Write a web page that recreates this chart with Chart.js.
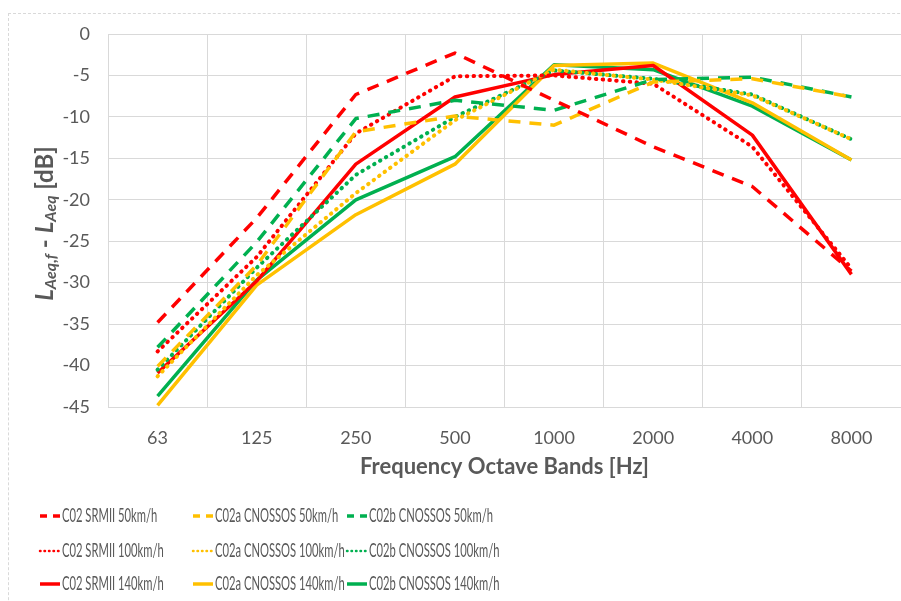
<!DOCTYPE html>
<html>
<head>
<meta charset="utf-8">
<script src="https://cdn.jsdelivr.net/npm/chart.js@4.4.1/dist/chart.umd.min.js"></script>
<style>
  html, body { margin: 0; padding: 0; background: #fff; overflow: hidden; }
  #wrap { position: relative; width: 901px; height: 601px; overflow: hidden; }
  #frame { position: absolute; left: 8px; top: 13px; width: 1000px; height: 700px; border: 1px dashed #d9d9d9; }
  #chart { position: absolute; left: 0; top: 0; }
</style>
</head>
<body>
<div id="wrap">
  <div id="frame"></div>
  <canvas id="chart" width="901" height="601"></canvas>
</div>
<script>
// octave bands and level differences (dB)
const bands = ['63', '125', '250', '500', '1000', '2000', '4000', '8000'];

const srmii50    = [-34.8, -22.2, -7.3, -2.3, -8.0, -13.6, -18.4, -28.6];
const cnossosA50 = [-40.1, -27.9, -11.8, -9.9, -11.0, -5.8, -5.4, -7.6];
const cnossosB50 = [-37.8, -25.1, -10.2, -8.0, -9.2, -5.5, -5.2, -7.6];

const srmii100    = [-38.3, -26.9, -12.0, -5.1, -5.0, -6.0, -13.6, -28.3];
const cnossosA100 = [-41.3, -29.1, -19.2, -10.4, -4.3, -5.5, -7.4, -12.7];
const cnossosB100 = [-40.5, -28.2, -17.0, -10.0, -4.4, -5.4, -7.3, -12.7];

const srmii140    = [-40.9, -29.8, -15.7, -7.6, -4.9, -3.8, -12.2, -29.0];
const cnossosA140 = [-44.8, -30.3, -21.8, -15.7, -3.8, -3.5, -8.3, -15.2];
const cnossosB140 = [-43.7, -29.7, -20.0, -14.8, -3.7, -4.3, -8.7, -15.2];

const yTicks = { min: -45, max: 0, step: 5 };

const RED = '#ff0000', YELLOW = '#ffc000', GREEN = '#00b050';
const TXT = '#595959';
const FONT = 'Lato';

const DASH = [12, 9];
const DOT = [0.5, 6.3];

function series(label, data, color, style) {
  return {
    label, data,
    borderColor: color,
    backgroundColor: color,
    borderWidth: style === 'dot' ? 4 : 3.5,
    borderDash: style === 'dash' ? DASH : style === 'dot' ? DOT : [],
    borderCapStyle: style === 'dot' ? 'round' : 'butt',
    borderJoinStyle: 'round',
    pointRadius: 0,
    tension: 0,
    fill: false,
    _style: style
  };
}

const datasets = [
  series('C02 SRMII 50km/h', srmii50, RED, 'dash'),
  series('C02a CNOSSOS 50km/h', cnossosA50, YELLOW, 'dash'),
  series('C02b CNOSSOS 50km/h', cnossosB50, GREEN, 'dash'),
  series('C02 SRMII 100km/h', srmii100, RED, 'dot'),
  series('C02a CNOSSOS 100km/h', cnossosA100, YELLOW, 'dot'),
  series('C02b CNOSSOS 100km/h', cnossosB100, GREEN, 'dot'),
  series('C02 SRMII 140km/h', srmii140, RED, 'solid'),
  series('C02a CNOSSOS 140km/h', cnossosA140, YELLOW, 'solid'),
  series('C02b CNOSSOS 140km/h', cnossosB140, GREEN, 'solid')
];

// draws a run of text pieces (for the subscripted y title)
function drawRuns(ctx, runs, x, y) {
  let total = 0;
  runs.forEach(r => { ctx.font = r.font; total += ctx.measureText(r.t).width; });
  let cx = x - total / 2;
  runs.forEach(r => {
    ctx.font = r.font;
    ctx.fillText(r.t, cx, y + (r.dy || 0));
    cx += ctx.measureText(r.t).width;
  });
}

const extras = {
  id: 'extras',
  afterDraw(chart) {
    const ctx = chart.ctx;
    const area = chart.chartArea;
    ctx.save();
    ctx.fillStyle = TXT;
    ctx.textBaseline = 'middle';

    // x title
    ctx.font = 'bold 22px ' + FONT;
    ctx.textAlign = 'center';
    ctx.fillText('Frequency Octave Bands [Hz]', (area.left + area.right) / 2, 467);

    // y title with subscripts
    ctx.save();
    ctx.translate(45, (area.top + area.bottom) / 2 + 3);
    ctx.rotate(-Math.PI / 2);
    ctx.textAlign = 'left';
    const big = 'italic bold 24px ' + FONT;
    const sub = 'italic bold 16px ' + FONT;
    const plain = 'bold 24px ' + FONT;
    drawRuns(ctx, [
      { t: 'L', font: big },
      { t: 'Aeq,f', font: sub, dy: 6 },
      { t: ' - ', font: plain },
      { t: 'L', font: big },
      { t: 'Aeq', font: sub, dy: 6 },
      { t: ' [dB]', font: plain }
    ], 0, 0);
    ctx.restore();

    // legend, three columns; text squeezed to the narrow face of the original
    const colX = [40, 193, 347];
    const rowY = [516, 551, 584];
    ctx.font = '19px ' + FONT;
    const sx = 124 / ctx.measureText('C02b CNOSSOS 50km/h').width;
    chart.data.datasets.forEach((ds, i) => {
      const x = colX[i % 3];
      const y = rowY[Math.floor(i / 3)];
      ctx.save();
      ctx.strokeStyle = ds.borderColor;
      ctx.lineWidth = 3.5;
      if (ds._style === 'dash') { ctx.setLineDash([7, 6]); ctx.lineCap = 'butt'; }
      else if (ds._style === 'dot') { ctx.setLineDash([0.5, 4]); ctx.lineCap = 'round'; ctx.lineWidth = 2.5; }
      else { ctx.setLineDash([]); ctx.lineCap = 'butt'; }
      ctx.beginPath();
      ctx.moveTo(x, y);
      ctx.lineTo(x + 20, y);
      ctx.stroke();
      ctx.restore();

      ctx.save();
      ctx.translate(x + 22, y);
      ctx.scale(sx, 1);
      ctx.font = '19px ' + FONT;
      ctx.textAlign = 'left';
      ctx.fillStyle = TXT;
      ctx.fillText(ds.label, 0, 0);
      ctx.restore();
    });
    ctx.restore();
  }
};

new Chart(document.getElementById('chart'), {
  type: 'line',
  data: { labels: bands, datasets },
  options: {
    responsive: false,
    animation: false,
    devicePixelRatio: 1,
    layout: { padding: { top: 34, right: 0, bottom: 0, left: 0 } },
    plugins: { legend: { display: false }, tooltip: { enabled: false }, title: { display: false } },
    scales: {
      x: {
        offset: true,
        grid: { offset: true, color: '#d9d9d9', lineWidth: 1, drawTicks: false },
        border: { color: '#d9d9d9' },
        ticks: { color: TXT, font: { family: FONT, size: 18 }, padding: 20, maxRotation: 0 },
        afterFit(s) { s.height = 194; }
      },
      y: {
        min: yTicks.min, max: yTicks.max,
        grid: { color: '#d9d9d9', lineWidth: 1, drawTicks: false },
        border: { color: '#d9d9d9' },
        ticks: { stepSize: yTicks.step, color: TXT, font: { family: FONT, size: 18 }, padding: 18 },
        afterFit(s) { s.width = 108; }
      }
    }
  },
  plugins: [extras]
});
</script>
</body>
</html>
